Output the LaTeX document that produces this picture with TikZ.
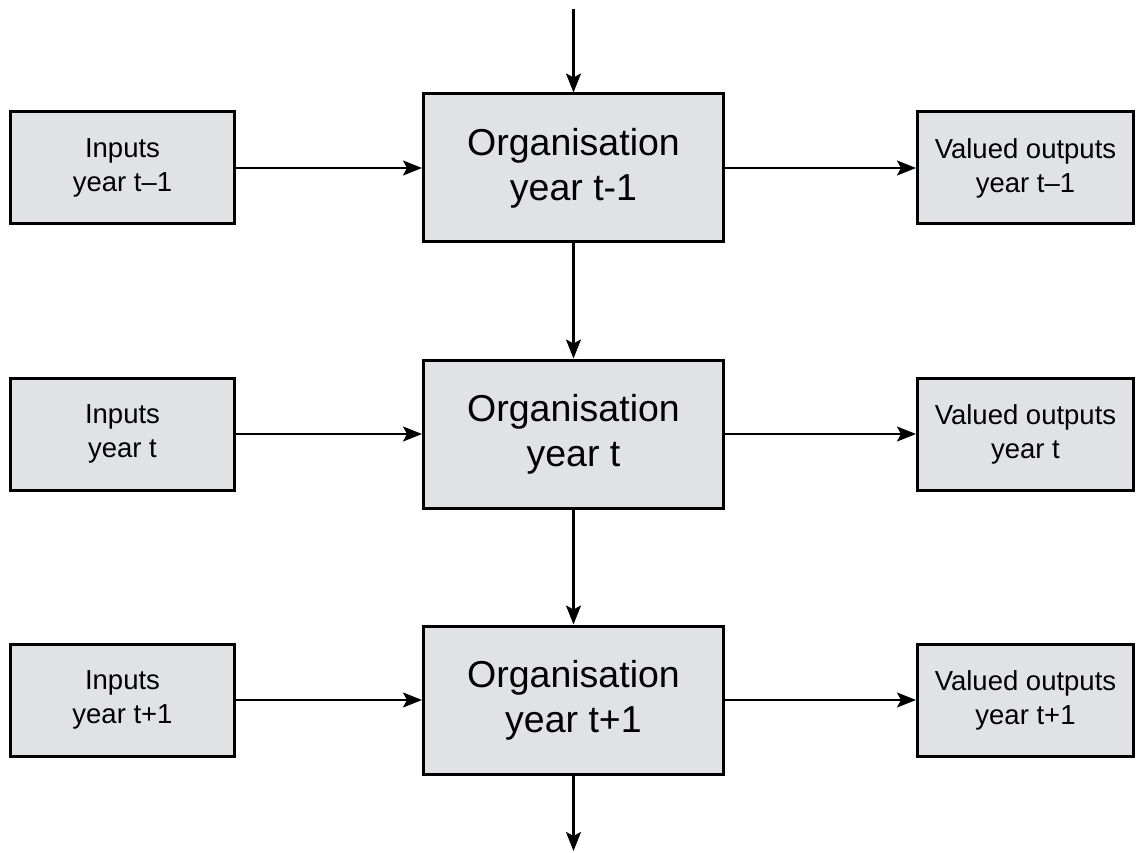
\documentclass[tikz,border=0pt]{standalone}
\usepackage{fontspec}
\setmainfont{Liberation Sans}
\usetikzlibrary{arrows.meta}
\definecolor{boxfill}{RGB}{225,226,228}
\begin{document}
\begin{tikzpicture}[x=1pt,y=-1pt,
  base/.style={draw=black, line width=3pt, fill=boxfill, inner sep=0pt, align=center},
  smallbox/.style={base, minimum width=224pt, minimum height=112pt, font=\fontsize{27.5}{34}\selectfont},
  orgbox/.style={base, minimum width=300pt, minimum height=148pt, font=\fontsize{37.5}{45}\selectfont},
  conn/.style={line width=2.3pt, -{Stealth[length=19pt,width=15pt,inset=4pt]}}]
\useasboundingbox (0,0) rectangle (1136,853);
\foreach \r/\y/\t/\tt in {1/168/t–1/t-1, 2/434/t/t, 3/700/t+1/t+1}{
  \node[smallbox] (in\r) at (122.5,\y) {Inputs\\year \t};
  \node[orgbox] (org\r) at (573.5,\y) {Organisation\\year \tt};
  \node[smallbox, minimum width=216pt] (out\r) at (1025.5,\y) {Valued outputs\\year \t};
  \draw[conn] (in\r) -- (org\r);
  \draw[conn] (org\r) -- (out\r);
}
\coordinate (top) at (573.5,9);
\coordinate (bot) at (573.5,851);
\draw[conn] (top) -- (org1);
\draw[conn] (org1) -- (org2);
\draw[conn] (org2) -- (org3);
\draw[conn] (org3) -- (bot);
\end{tikzpicture}
\end{document}
